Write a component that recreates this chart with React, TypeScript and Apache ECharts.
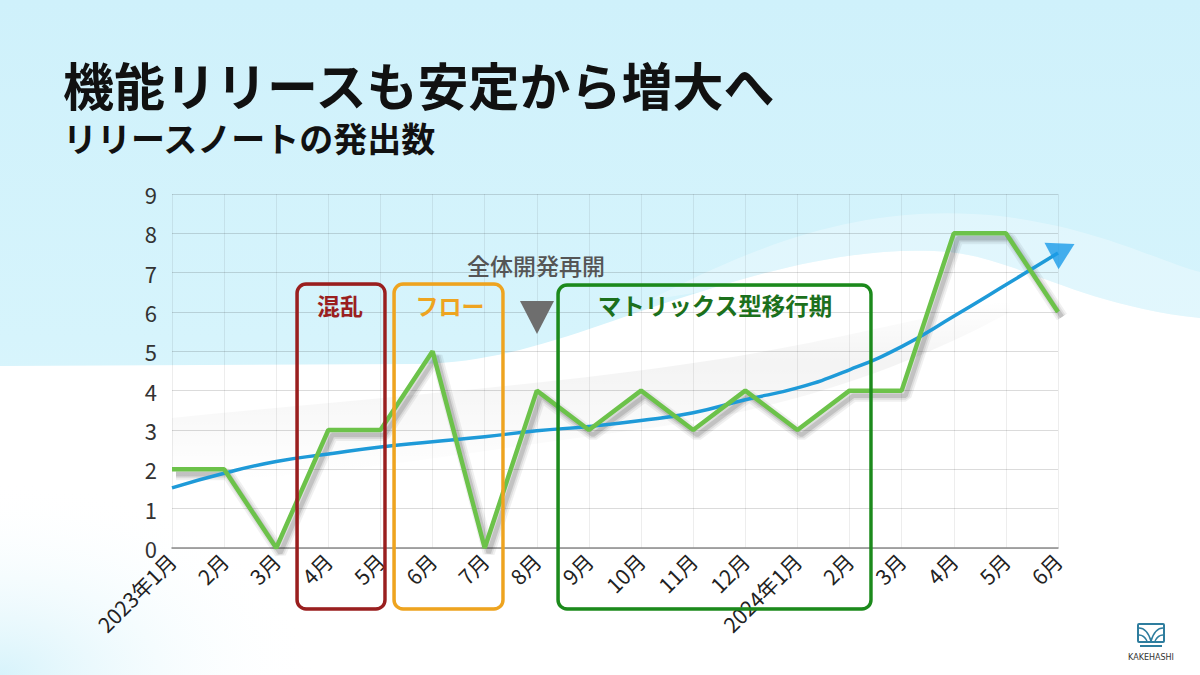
import React, { useEffect, useRef } from "react";
import * as echarts from "echarts";

const categories = [
  "2023年1月", "2月", "3月", "4月", "5月", "6月", "7月", "8月", "9月",
  "10月", "11月", "12月", "2024年1月", "2月", "3月", "4月", "5月", "6月",
];
const releaseCounts = [2, 2, 0, 3, 3, 5, 0, 4, 3, 4, 3, 4, 3, 4, 4, 8, 8, 6];
const trendValues = [1.53, 1.9, 2.2, 2.39, 2.57, 2.7, 2.83, 2.98, 3.09, 3.24, 3.44, 3.77, 4.07, 4.53, 5.12, 5.89, 6.69, 7.5];
const arrowHead = [[17, 7.5]];
const yMin = 0;
const yMax = 9;
const yStep = 1;

const titleText = "機能リリースも安定から増大へ";
const subtitleText = "リリースノートの発出数";
const restartLabel = "全体開発再開";
const phaseLabels = ["混乱", "フロー", "マトリックス型移行期"];

const JP = '"Noto Sans CJK JP", "Noto Sans", sans-serif';

echarts.graphic.registerShape(
  "waveWhite",
  echarts.graphic.extendPath(
    "M0,366 L420,364 C520,362 600,322 700,292 C800,260 880,246 950,252 C1020,260 1080,305 1200,318 L1200,675 L0,675 Z",
    {}
  )
);
echarts.graphic.registerShape(
  "waveLight",
  echarts.graphic.extendPath(
    "M650,300 C780,232 880,204 1000,216 C1100,228 1160,262 1200,272 L1200,318 C1080,305 1020,260 950,252 C880,246 800,260 700,292 Z",
    {}
  )
);
echarts.graphic.registerShape(
  "greyBand",
  echarts.graphic.extendPath(
    "M172,418 C350,400 550,385 700,362 C820,344 900,322 1010,300 L1010,312 C900,372 780,410 650,428 C480,450 320,480 172,482 Z",
    {}
  )
);

function roughBox(x: number, y: number, w: number, h: number, color: string) {
  return [
    {
      type: "rect",
      z: 100,
      shape: { x, y, width: w, height: h, r: 9 },
      style: { fill: "none", stroke: color, lineWidth: 3.4 },
    },
    {
      type: "rect",
      z: 100,
      shape: { x: x + 0.8, y: y + 0.6, width: w - 1.2, height: h - 1.0, r: 9 },
      style: { fill: "none", stroke: color, lineWidth: 1.6, opacity: 0.7 },
    },
  ];
}

export default function App() {
  const ref = useRef<HTMLDivElement>(null);

  useEffect(() => {
    if (!ref.current) return;
    const chart = echarts.init(ref.current, null, { renderer: "svg" });

    const hiddenX = { type: "category", data: categories, boundaryGap: false, show: false, gridIndex: 1 };
    const hiddenY = { type: "value", min: yMin, max: yMax, interval: yStep, show: false, gridIndex: 1, splitLine: { show: false } };

    const option: any = {
      animation: false,
      backgroundColor: "#ffffff",
      grid: [
        { left: 172, right: 142, top: 194, bottom: 127, containLabel: false },
        { left: 176, right: 138, top: 199, bottom: 122, containLabel: false },
      ],
      xAxis: [
        {
          type: "category",
          data: categories,
          boundaryGap: false,
          axisLine: { show: true, lineStyle: { color: "#8a8a8a", width: 1.5 } },
          axisTick: { show: false },
          axisLabel: {
            interval: 0,
            rotate: 45,
            margin: 9,
            fontSize: 21,
            color: "#222",
            fontFamily: JP,
          },
          splitLine: { show: true, lineStyle: { color: "rgba(0,0,0,0.07)", width: 1 } },
        },
        hiddenX,
      ],
      yAxis: [
        {
          type: "value",
          min: yMin,
          max: yMax,
          interval: yStep,
          axisLine: { show: false },
          axisTick: { show: false },
          axisLabel: { fontSize: 22, color: "#333", margin: 15, fontFamily: JP },
          splitLine: { show: true, lineStyle: { color: "rgba(0,0,0,0.14)", width: 1 } },
        },
        hiddenY,
      ],
      series: [
        {
          type: "line",
          name: "releasesShadowWide",
          data: releaseCounts,
          xAxisIndex: 1,
          yAxisIndex: 1,
          symbol: "none",
          silent: true,
          z: 1,
          lineStyle: { color: "rgba(0,0,0,0.06)", width: 12 },
        },
        {
          type: "line",
          name: "releasesShadowMid",
          data: releaseCounts,
          xAxisIndex: 1,
          yAxisIndex: 1,
          symbol: "none",
          silent: true,
          z: 1,
          lineStyle: { color: "rgba(0,0,0,0.08)", width: 8 },
        },
        {
          type: "line",
          name: "releasesShadow",
          data: releaseCounts,
          xAxisIndex: 1,
          yAxisIndex: 1,
          symbol: "none",
          silent: true,
          z: 1,
          lineStyle: { color: "rgba(0,0,0,0.12)", width: 4.5 },
        },
        {
          type: "line",
          name: "trend",
          data: trendValues,
          smooth: true,
          symbol: "none",
          z: 3,
          lineStyle: { color: "#1e9ad8", width: 3.5 },
        },
        {
          type: "line",
          name: "releases",
          data: releaseCounts,
          symbol: "none",
          z: 4,
          lineStyle: { color: "#6cc24a", width: 4.5 },
        },
        {
          type: "scatter",
          name: "arrow",
          data: arrowHead,
          clip: false,
          symbol: "triangle",
          symbolSize: [30, 26],
          symbolRotate: -62,
          symbolOffset: [5, -3],
          z: 5,
          itemStyle: { color: "#1a9be8" },
        },
      ],
      graphic: [
        {
          type: "rect",
          z: -100,
          shape: { x: 0, y: 0, width: 1200, height: 675 },
          style: {
            fill: new echarts.graphic.LinearGradient(0, 0, 0, 1, [
              { offset: 0, color: "#cff1fb" },
              { offset: 0.5, color: "#d6f4fc" },
              { offset: 1, color: "#e6f8fd" },
            ]),
          },
        },
        {
          type: "waveLight",
          z: -99,
          style: { fill: "rgba(255,255,255,0.3)" },
        },
        {
          type: "waveWhite",
          z: -98,
          style: { fill: "#ffffff" },
        },
        {
          type: "rect",
          z: -97,
          shape: { x: 0, y: 480, width: 320, height: 195 },
          style: {
            fill: new echarts.graphic.RadialGradient(0, 1, 1, [
              { offset: 0, color: "rgba(205,240,250,0.8)" },
              { offset: 1, color: "rgba(255,255,255,0)" },
            ]),
          },
        },
        {
          type: "greyBand",
          z: -96,
          style: {
            fill: new echarts.graphic.LinearGradient(0, 0, 0, 1, [
              { offset: 0, color: "rgba(0,0,0,0)" },
              { offset: 0.35, color: "rgba(0,0,0,0.045)" },
              { offset: 1, color: "rgba(0,0,0,0)" },
            ]),
          },
        },
        {
          type: "text",
          z: 100,
          x: 63,
          y: 84,
          style: {
            text: titleText,
            fontSize: 51,
            lineHeight: 51,
            fontWeight: "bold",
            fontFamily: JP,
            fill: "#111",
            verticalAlign: "middle",
          },
        },
        {
          type: "text",
          z: 100,
          x: 63,
          y: 137,
          style: {
            text: subtitleText,
            fontSize: 34,
            lineHeight: 34,
            fontWeight: "bold",
            fontFamily: JP,
            fill: "#111",
            verticalAlign: "middle",
          },
        },
        {
          type: "text",
          z: 100,
          x: 536,
          y: 265,
          style: {
            text: restartLabel,
            fontSize: 23,
            fontWeight: 500,
            fontFamily: JP,
            fill: "#555",
            align: "center",
            verticalAlign: "middle",
          },
        },
        {
          type: "polygon",
          z: 100,
          shape: { points: [[520, 301], [554, 301], [537, 334]] },
          style: { fill: "#6e6e6e" },
        },
        ...roughBox(297, 284, 88, 325, "#9a1f1f"),
        ...roughBox(394, 284, 109, 325, "#eea420"),
        ...roughBox(558, 285, 313, 324, "#1c8a1c"),
        {
          type: "text",
          z: 101,
          x: 340,
          y: 305,
          style: {
            text: phaseLabels[0],
            fontSize: 23,
            fontWeight: "bold",
            fontFamily: JP,
            fill: "#9a1f1f",
            align: "center",
            verticalAlign: "middle",
          },
        },
        {
          type: "text",
          z: 101,
          x: 450,
          y: 305,
          style: {
            text: phaseLabels[1],
            fontSize: 23,
            fontWeight: "bold",
            fontFamily: JP,
            fill: "#eea420",
            align: "center",
            verticalAlign: "middle",
          },
        },
        {
          type: "text",
          z: 101,
          x: 715,
          y: 305,
          style: {
            text: phaseLabels[2],
            fontSize: 23.5,
            fontWeight: "bold",
            fontFamily: JP,
            fill: "#1c701c",
            align: "center",
            verticalAlign: "middle",
          },
        },
        {
          type: "group",
          z: 100,
          children: [
            {
              type: "rect",
              shape: { x: 1138, y: 624, width: 26, height: 18, r: 1 },
              style: { fill: "none", stroke: "#2e7d9e", lineWidth: 2 },
            },
            {
              type: "bezierCurve",
              shape: { x1: 1139, y1: 628, x2: 1151, y2: 641, cpx1: 1147, cpy1: 628 },
              style: { fill: "none", stroke: "#2e7d9e", lineWidth: 1.6 },
            },
            {
              type: "bezierCurve",
              shape: { x1: 1163, y1: 628, x2: 1151, y2: 641, cpx1: 1155, cpy1: 628 },
              style: { fill: "none", stroke: "#2e7d9e", lineWidth: 1.6 },
            },
            {
              type: "bezierCurve",
              shape: { x1: 1139, y1: 635, x2: 1147, y2: 641, cpx1: 1144, cpy1: 635 },
              style: { fill: "none", stroke: "#2e7d9e", lineWidth: 1.4 },
            },
            {
              type: "bezierCurve",
              shape: { x1: 1163, y1: 635, x2: 1155, y2: 641, cpx1: 1158, cpy1: 635 },
              style: { fill: "none", stroke: "#2e7d9e", lineWidth: 1.4 },
            },
            {
              type: "line",
              shape: { x1: 1140, y1: 646, x2: 1162, y2: 646 },
              style: { stroke: "#2e7d9e", lineWidth: 2 },
            },
            {
              type: "text",
              x: 1151,
              y: 657,
              style: {
                text: "KAKEHASHI",
                fontSize: 8,
                fontFamily: '"DejaVu Sans", sans-serif',
                fill: "#333",
                align: "center",
                verticalAlign: "middle",
              },
            },
          ],
        },
      ],
    };

    chart.setOption(option);
    return () => chart.dispose();
  }, []);

  return (
    <div
      ref={ref}
      style={{ position: "fixed", left: 0, top: 0, width: 1200, height: 675 }}
    />
  );
}
